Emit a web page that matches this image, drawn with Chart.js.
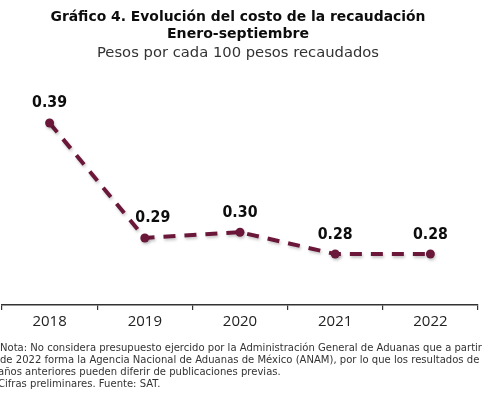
<!DOCTYPE html>
<html>
<head>
<meta charset="utf-8">
<script src="https://cdn.jsdelivr.net/npm/chart.js@4"></script>
<style>
  html, body { margin: 0; padding: 0; background: #fff; }
  #wrap { position: relative; width: 494px; height: 400px; }
</style>
</head>
<body>
<div id="wrap"><canvas id="c" width="494" height="400"></canvas></div>
<script>
const categories = ['2018', '2019', '2020', '2021', '2022'];
const costValues = [0.390, 0.290, 0.295, 0.276, 0.276];
const valueLabels = ['0.39', '0.29', '0.30', '0.28', '0.28'];
const titleLines = ['Gráfico 4. Evolución del costo de la recaudación', 'Enero-septiembre'];
const subtitleText = 'Pesos por cada 100 pesos recaudados';
const noteLines = [
  'Nota: No considera presupuesto ejercido por la Administración General de Aduanas que a partir',
  'de 2022 forma la Agencia Nacional de Aduanas de México (ANAM), por lo que los resultados de',
  'años anteriores pueden diferir de publicaciones previas.',
  'Cifras preliminares. Fuente: SAT.'
];

const FONT = "'Open Sans', 'DejaVu Sans', sans-serif";
const WIDE = "'DejaVu Sans', sans-serif";
const LINE_COLOR = '#6a1739';

// draw text horizontally scaled so it spans a target width
function fitText(ctx, text, x, y, targetW, align) {
  const w = ctx.measureText(text).width;
  const s = targetW / w;
  ctx.save();
  ctx.translate(x, y);
  ctx.scale(s, 1);
  ctx.textAlign = align;
  ctx.fillText(text, 0, 0);
  ctx.restore();
  return s;
}

const textPlugin = {
  id: 'textPlugin',
  afterDraw(chart) {
    const ctx = chart.ctx;
    ctx.save();
    ctx.textBaseline = 'alphabetic';
    ctx.fillStyle = '#0d0d0d';
    ctx.font = 'bold 13.5px ' + WIDE;
    fitText(ctx, titleLines[0], 238, 21, 375, 'center');
    fitText(ctx, titleLines[1], 238, 38, 142, 'center');
    ctx.fillStyle = '#333';
    ctx.font = '14px ' + WIDE;
    fitText(ctx, subtitleText, 238, 57, 282, 'center');
    ctx.fillStyle = '#333';
    ctx.font = '10px ' + WIDE;
    const s = 482 / ctx.measureText(noteLines[0]).width;
    noteLines.forEach((t, i) => {
      const w = ctx.measureText(t).width * s;
      fitText(ctx, t, i < 2 ? 0 : -2, 351 + i * 12, w, 'left');
    });
    ctx.restore();
  }
};

const labelPlugin = {
  id: 'valueLabels',
  afterDatasetsDraw(chart, args, opts) {
    const ctx = chart.ctx;
    const meta = chart.getDatasetMeta(0);
    ctx.save();
    ctx.font = 'bold 15px ' + WIDE;
    ctx.fillStyle = '#0d0d0d';
    ctx.textAlign = 'center';
    ctx.textBaseline = 'alphabetic';
    meta.data.forEach((pt, i) => {
      const dx = (opts.shiftX && opts.shiftX[i]) || 0;
      fitText(ctx, valueLabels[i], pt.x + dx, pt.y - 15.5, 35, 'center');
    });
    ctx.restore();
  }
};

const shadowPlugin = {
  id: 'lineShadow',
  beforeDatasetDraw(chart) {
    const ctx = chart.ctx;
    ctx.save();
    ctx.shadowColor = 'rgba(0,0,0,0.22)';
    ctx.shadowBlur = 3;
    ctx.shadowOffsetX = 1;
    ctx.shadowOffsetY = 2;
  },
  afterDatasetDraw(chart) {
    chart.ctx.restore();
  }
};

new Chart(document.getElementById('c'), {
  type: 'line',
  data: {
    labels: categories,
    datasets: [{
      data: costValues,
      borderColor: LINE_COLOR,
      backgroundColor: LINE_COLOR,
      borderWidth: 4,
      borderDash: [12, 9],
      borderCapStyle: 'butt',
      pointRadius: 4.5,
      pointBackgroundColor: LINE_COLOR,
      pointBorderWidth: 0,
      tension: 0,
      fill: false,
      clip: false
    }]
  },
  options: {
    responsive: false,
    animation: false,
    devicePixelRatio: 1,
    layout: { autoPadding: false, padding: { left: 2, right: 16, top: 75, bottom: 0 } },
    plugins: {
      legend: { display: false },
      title: { display: false },
      tooltip: { enabled: false },
      valueLabels: { shiftX: [0, 8, 0, 0, 0] }
    },
    scales: {
      x: {
        offset: true,
        grid: { display: true, drawOnChartArea: false, offset: true, tickLength: 5, color: '#333', lineWidth: 1.2 },
        border: { display: true, color: '#333', width: 1.5 },
        ticks: { color: '#222', font: { family: FONT, size: 15 }, padding: 3, maxRotation: 0 },
        afterFit(scale) { scale.height = 95; }
      },
      y: {
        display: false,
        min: 0.2317,
        max: 0.4317
      }
    }
  },
  plugins: [textPlugin, labelPlugin, shadowPlugin]
});
</script>
</body>
</html>
